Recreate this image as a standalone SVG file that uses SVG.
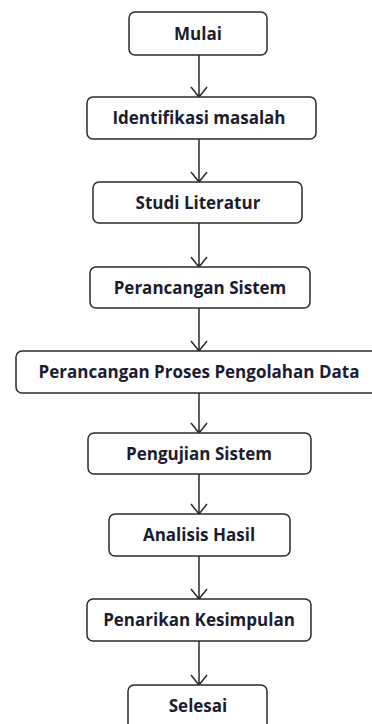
<svg xmlns="http://www.w3.org/2000/svg" width="372" height="724" viewBox="0 0 372 724">
<style>
.box{fill:#fff;stroke:#2a2a2a;stroke-width:1.5}
.lbl{font-family:"Open Sans","Liberation Sans",sans-serif;font-weight:700;font-size:17px;fill:#1c1c30;text-anchor:middle}
.con{stroke:#2a2a2a;stroke-width:1.5;fill:none}
</style>
<rect width="372" height="724" fill="#fff"/>
<g id="connectors">
<path class="con" d="M199 55V97M191 87L199 97L207 87"/>
<path class="con" d="M199 139V182M191 172L199 182L207 172"/>
<path class="con" d="M199 223V267M191 257L199 267L207 257"/>
<path class="con" d="M199 308V351M191 341L199 351L207 341"/>
<path class="con" d="M199 393V433M191 423L199 433L207 423"/>
<path class="con" d="M199 474V514M191 504L199 514L207 504"/>
<path class="con" d="M199 556V599M191 589L199 599L207 589"/>
<path class="con" d="M199 641V685M191 675L199 685L207 675"/>
</g>
<g id="mulai"><rect class="box" x="129" y="12" width="138" height="43" rx="6"/><text class="lbl" x="198" y="40">Mulai</text></g>
<g id="identifikasi"><rect class="box" x="87" y="97" width="229" height="42" rx="6"/><text class="lbl" x="199" y="124">Identifikasi masalah</text></g>
<g id="studi"><rect class="box" x="93" y="182" width="209" height="41" rx="6"/><text class="lbl" x="198" y="209">Studi Literatur</text></g>
<g id="perancangan-sistem"><rect class="box" x="90" y="267" width="220" height="41" rx="6"/><text class="lbl" x="200" y="294">Perancangan Sistem</text></g>
<g id="perancangan-proses"><rect class="box" x="16" y="351" width="366" height="42" rx="6"/><text class="lbl" x="199" y="378">Perancangan Proses Pengolahan Data</text></g>
<g id="pengujian"><rect class="box" x="88" y="433" width="223" height="41" rx="6"/><text class="lbl" x="199" y="460">Pengujian Sistem</text></g>
<g id="analisis"><rect class="box" x="109" y="514" width="181" height="42" rx="6"/><text class="lbl" x="199" y="541">Analisis Hasil</text></g>
<g id="penarikan"><rect class="box" x="87" y="599" width="224" height="42" rx="6"/><text class="lbl" x="199" y="626">Penarikan Kesimpulan</text></g>
<g id="selesai"><rect class="box" x="128" y="685" width="139" height="45" rx="6"/><text class="lbl" x="198" y="712">Selesai</text></g>
</svg>
